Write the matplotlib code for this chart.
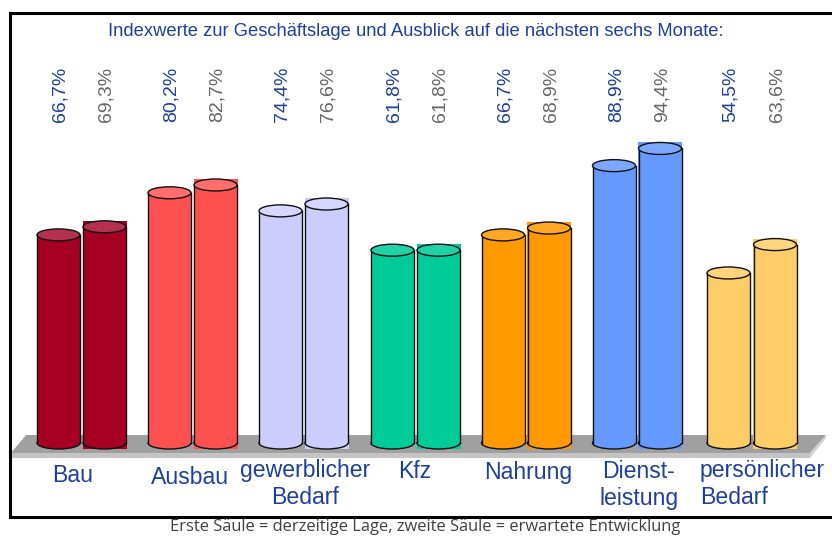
import matplotlib
matplotlib.use("Agg")
import matplotlib.pyplot as plt
from matplotlib.patches import Ellipse, Polygon, Rectangle

plt.rcParams['font.family'] = ['Liberation Sans', 'DejaVu Sans']

# data
categories = ['Bau', 'Ausbau', 'gewerblicher\nBedarf', 'Kfz', 'Nahrung', 'Dienst-\nleistung', 'persönlicher\nBedarf']
lage = [66.7, 80.2, 74.4, 61.8, 66.7, 88.9, 54.5]
entwicklung = [69.3, 82.7, 76.6, 61.8, 68.9, 94.4, 63.6]
colors = ['#A50021', '#FF5050', '#CCCCFF', '#00CC99', '#FF9900', '#6699FF', '#FFCC66']
tops = ['#B5304D', '#FF6D6D', '#D6D6FF', '#1FD3A6', '#FFA826', '#7DA8FF', '#FFD47F']

# layout, in pixels of the 832x536 picture
W, H = 832, 536
base_y = 443
px_per_unit = 3.12
x1 = [58.5, 169.5, 280.5, 392.5, 503, 614, 728.5]
x2 = [104.5, 215.5, 326.5, 438.5, 549, 660, 775]
label_x = [73, 190, 305, 415, 528, 639, 700]
label_y = [475, 478, 484, 472, 472, 485, 484]
label_ha = ['center'] * 6 + ['left']
bar_w = 43
cap_h = 12

fig = plt.figure(figsize=(W / 100, H / 100), dpi=100)

# pixel axes for frame, floor and text
bg = fig.add_axes([0, 0, 1, 1])
bg.set_xlim(0, W)
bg.set_ylim(H, 0)
bg.axis('off')

# frame is open on the right
bg.plot([W, 10, 10, W], [13, 13, 517, 517], color='black', lw=2.2, solid_joinstyle='miter')
bg.add_patch(Polygon([(11, 453), (26, 435), (826, 435), (810, 453)], fc='#A0A0A0', ec='none'))
bg.add_patch(Rectangle((11, 453), 799, 5, fc='#C4C4C4', ec='none'))
bg.add_patch(Polygon([(810, 453), (826, 435), (826, 438), (810, 458)], fc='#D0D0D0', ec='none'))

bg.text(415.5, 32, 'Indexwerte zur Geschäftslage und Ausblick auf die nächsten sechs Monate:',
        color='#1F3F9C', fontsize=13.2, ha='center', va='center')
bg.text(425, 527, 'Erste Säule = derzeitige Lage, zweite Säule = erwartete Entwicklung',
        color='#404040', fontsize=11.9, ha='center', va='center', family=['Open Sans', 'DejaVu Sans'])

for i in range(len(categories)):
    bg.text(x1[i] + 2, 122, str(lage[i]).replace('.', ',') + '%', color='#1F3F9C', fontsize=14,
            rotation=90, ha='center', va='bottom')
    bg.text(x2[i] + 2, 122, str(entwicklung[i]).replace('.', ',') + '%', color='#666666', fontsize=14,
            rotation=90, ha='center', va='bottom')
    bg.text(label_x[i], label_y[i], categories[i], color='#1F3F9C', fontsize=16.6,
            ha=label_ha[i], va='center', linespacing=1.2)

# bars on a value scale, zero sits on the floor line
ax = fig.add_axes([0, 0, 1, 1])
ax.set_xlim(0, W)
ax.set_ylim(-(H - base_y) / px_per_unit, base_y / px_per_unit)
ax.axis('off')
ax.patch.set_alpha(0)


def cylinder(x, val, col, top):
    ch = cap_h / px_per_unit
    ax.add_patch(Ellipse((x, 0), bar_w, ch, fc=col, ec='#111111', lw=1.0, zorder=3))
    ax.bar(x, val, width=bar_w, color=col, zorder=3)
    ax.plot([x - bar_w / 2, x - bar_w / 2], [0, val], color='#111111', lw=1.0, zorder=4)
    ax.plot([x + bar_w / 2, x + bar_w / 2], [0, val], color='#111111', lw=1.0, zorder=4)
    ax.add_patch(Ellipse((x, val), bar_w, ch, fc=top, ec='#111111', lw=1.0, zorder=5))


for i in range(len(categories)):
    # the second column has a flat block behind it
    ch = cap_h / px_per_unit
    ax.bar(x2[i], entwicklung[i] + ch, bottom=-ch / 2, width=bar_w + 1, color=colors[i], zorder=2)
    cylinder(x1[i], lage[i], colors[i], tops[i])
    cylinder(x2[i], entwicklung[i], colors[i], tops[i])

fig.savefig('out.png', dpi=100)
